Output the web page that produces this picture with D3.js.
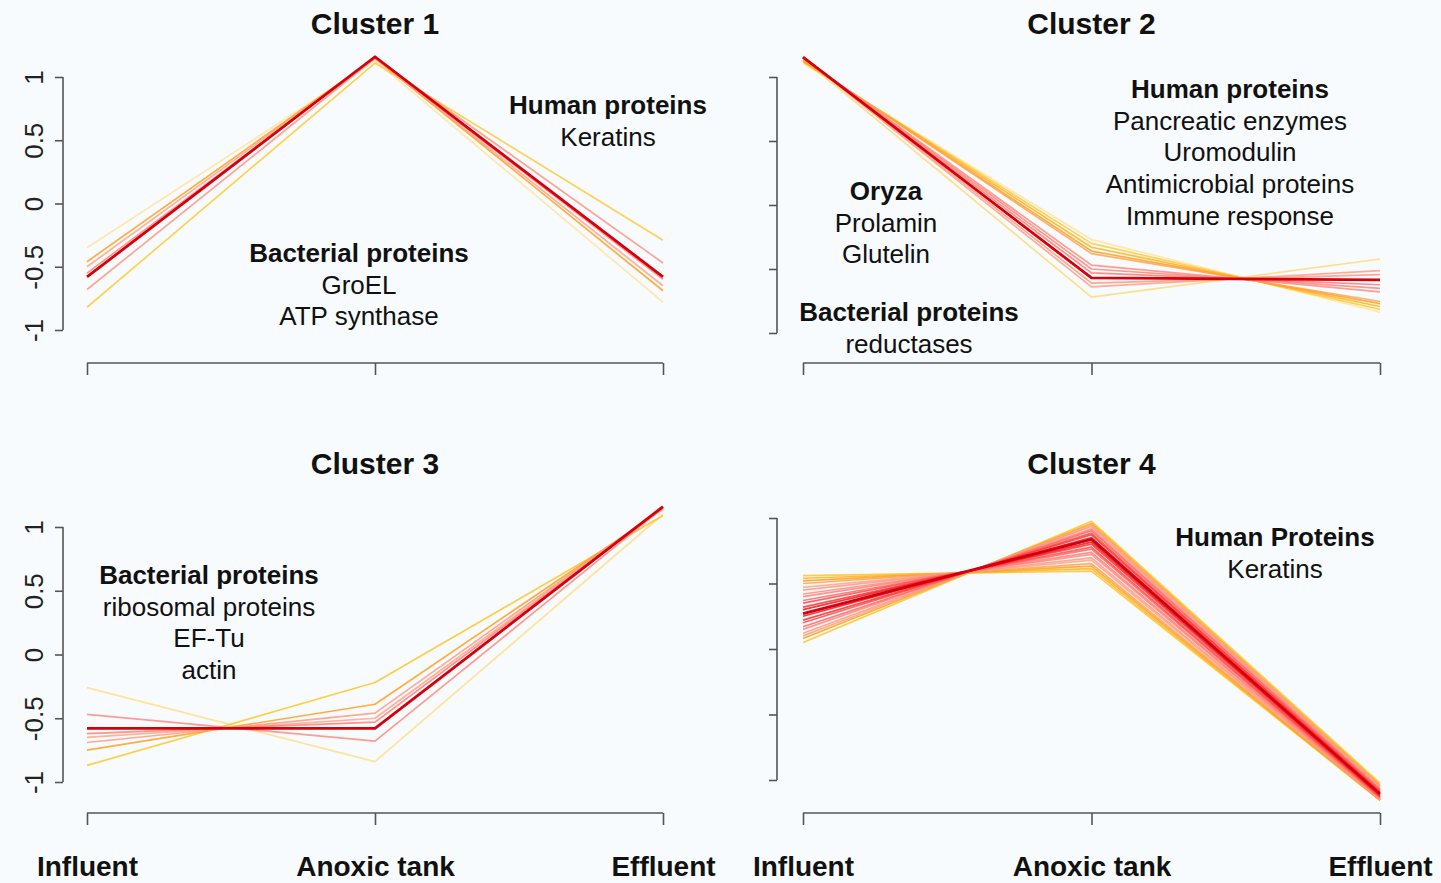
<!DOCTYPE html>
<html>
<head>
<meta charset="utf-8" />
<title>Cluster profiles</title>
<style>
body { margin: 0; background: #f7fbfd; }
svg { display: block; }
text { font-family: "Liberation Sans", Arial, Helvetica, sans-serif; fill: #111; }
.axis path, .axis line { stroke: #555; stroke-width: 1.6px; }
.profile { fill: none; stroke-linejoin: round; }
</style>
</head>
<body>
<script src="https://cdn.jsdelivr.net/npm/d3@7"></script>
<script>
// sampling points and y ticks
var stages = ["Influent", "Anoxic tank", "Effluent"];
var yTicks = [-1, -0.5, 0, 0.5, 1];

// standardised profiles (Influent, Anoxic tank, Effluent) and membership per line
var cluster1Profiles = [
  [-0.35, 1.13, -0.78],
  [-0.82, 1.11, -0.29],
  [-0.46, 1.15, -0.69],
  [-0.50, 1.15, -0.65],
  [-0.68, 1.15, -0.47],
  [-0.55, 1.15, -0.60],
  [-0.58, 1.16, -0.58]
];
var cluster1Membership = [0.25, 0.38, 0.5, 0.6, 0.66, 0.72, 1.0];

var cluster2Profiles = [
  [1.142, -0.72, -0.422],
  [1.107, -0.27, -0.837],
  [1.116, -0.30, -0.816],
  [1.123, -0.33, -0.793],
  [1.130, -0.36, -0.770],
  [1.134, -0.38, -0.754],
  [1.154, -0.61, -0.544],
  [1.152, -0.64, -0.512],
  [1.148, -0.47, -0.678],
  [1.151, -0.50, -0.651],
  [1.153, -0.53, -0.623],
  [1.155, -0.57, -0.585]
];
var cluster2Membership = [0.3, 0.25, 0.38, 0.45, 0.5, 0.55, 0.64, 0.62, 0.7, 0.72, 0.76, 1.0];

var cluster3Profiles = [
  [-0.26, -0.84, 1.10],
  [-0.87, -0.22, 1.09],
  [-0.75, -0.39, 1.14],
  [-0.65, -0.50, 1.15],
  [-0.69, -0.46, 1.15],
  [-0.47, -0.68, 1.15],
  [-0.62, -0.53, 1.15],
  [-0.58, -0.58, 1.16]
];
var cluster3Membership = [0.28, 0.4, 0.5, 0.6, 0.64, 0.7, 0.75, 1.0];

var cluster4Profiles = [
  [0.56, 0.595, -1.155],
  [0.54, 0.614, -1.154],
  [0.52, 0.633, -1.153],
  [0.50, 0.651, -1.151],
  [0.47, 0.678, -1.148],
  [0.45, 0.696, -1.146],
  [0.42, 0.722, -1.142],
  [0.40, 0.738, -1.138],
  [0.37, 0.762, -1.132],
  [0.35, 0.778, -1.128],
  [0.32, 0.801, -1.121],
  [0.30, 0.816, -1.116],
  [0.27, 0.837, -1.107],
  [0.25, 0.851, -1.101],
  [0.22, 0.872, -1.092],
  [0.20, 0.885, -1.085],
  [0.17, 0.904, -1.074],
  [0.15, 0.917, -1.067],
  [0.12, 0.935, -1.055],
  [0.10, 0.946, -1.046],
  [0.08, 0.958, -1.038],
  [0.05, 0.974, -1.024]
];
var cluster4Membership = [0.4, 0.45, 0.5, 0.55, 0.6, 0.65, 0.7, 0.75, 0.8, 0.85, 0.9, 0.95, 1.0,
                          0.95, 0.9, 0.85, 0.8, 0.72, 0.65, 0.58, 0.5, 0.4];

// annotation texts: [text, bold]
var cluster1Notes = [
  [["Human proteins", true], ["Keratins", false]],
  [["Bacterial proteins", true], ["GroEL", false], ["ATP synthase", false]]
];
var cluster2Notes = [
  [["Human proteins", true], ["Pancreatic enzymes", false], ["Uromodulin", false],
   ["Antimicrobial proteins", false], ["Immune response", false]],
  [["Oryza", true], ["Prolamin", false], ["Glutelin", false]],
  [["Bacterial proteins", true], ["reductases", false]]
];
var cluster3Notes = [
  [["Bacterial proteins", true], ["ribosomal proteins", false], ["EF-Tu", false], ["actin", false]]
];
var cluster4Notes = [
  [["Human Proteins", true], ["Keratins", false]]
];

var width = 1441, height = 883;

var svg = d3.select("body").append("svg")
    .attr("width", width)
    .attr("height", height);

svg.append("rect").attr("width", width).attr("height", height).attr("fill", "#f7fbfd");

var colour = d3.scaleLinear()
    .domain([0.25, 0.4, 0.5, 0.6, 0.75, 0.9, 1])
    .range(["#ffe4a0", "#ffc626", "#ffa01a", "#ffa488", "#ff7f78", "#ff3030", "#d6000c"]);

var panels = [
  { title: "Cluster 1", profiles: cluster1Profiles, mem: cluster1Membership, notes: cluster1Notes,
    x0: 87, x1: 663, yAxisX: 63, yTop: 77, yBot: 330, xAxisY: 363, titleY: 34,
    yLabels: true, xLabels: false, noteAt: [[608, 105], [359, 253]] },
  { title: "Cluster 2", profiles: cluster2Profiles, mem: cluster2Membership, notes: cluster2Notes,
    x0: 803, x1: 1380, yAxisX: 777, yTop: 77, yBot: 333, xAxisY: 363, titleY: 34,
    yLabels: false, xLabels: false, noteAt: [[1230, 89], [886, 191], [909, 312]] },
  { title: "Cluster 3", profiles: cluster3Profiles, mem: cluster3Membership, notes: cluster3Notes,
    x0: 87, x1: 663, yAxisX: 63, yTop: 527, yBot: 782, xAxisY: 813, titleY: 474,
    yLabels: true, xLabels: true, noteAt: [[209, 575]] },
  { title: "Cluster 4", profiles: cluster4Profiles, mem: cluster4Membership, notes: cluster4Notes,
    x0: 803, x1: 1380, yAxisX: 777, yTop: 518, yBot: 780, xAxisY: 813, titleY: 474,
    yLabels: false, xLabels: true, noteAt: [[1275, 537]] }
];

var lineGap = 31.6;

panels.forEach(function(p) {
    var g = svg.append("g");

    var x = d3.scalePoint().domain(stages).range([p.x0, p.x1]);
    var y = d3.scaleLinear().domain([-1, 1]).range([p.yBot, p.yTop]);

    // profiles, lowest membership first so the core line sits on top
    var rows = p.profiles.map(function(v, i) { return { values: v, m: p.mem[i] }; })
        .sort(function(a, b) { return a.m - b.m; });

    var line = d3.line()
        .x(function(d, i) { return x(stages[i]); })
        .y(function(d) { return y(d); });

    g.selectAll(".profile")
        .data(rows)
      .enter().append("path")
        .attr("class", "profile")
        .attr("d", function(d) { return line(d.values); })
        .attr("stroke", function(d) { return colour(d.m); })
        .attr("stroke-opacity", function(d) { return d.m >= 1 ? 1 : 0.85; })
        .attr("stroke-width", function(d) { return d.m >= 1 ? 2.8 : 1.7; });

    // y axis
    var yAxis = g.append("g")
        .attr("class", "axis")
        .attr("transform", "translate(" + p.yAxisX + ",0)")
        .call(d3.axisLeft(y).tickValues(yTicks).tickSize(8).tickSizeOuter(0)
              .tickFormat(p.yLabels ? function(d) { return String(d); } : ""));
    yAxis.selectAll("text")
        .attr("x", null)
        .attr("dy", null)
        .attr("text-anchor", "middle")
        .attr("transform", "translate(-20,0) rotate(-90)")
        .style("font-size", "26px")
        .style("fill", "#222");
    yAxis.select(".domain").attr("d", "M0," + p.yBot + "V" + p.yTop);

    // x axis
    var xAxis = g.append("g")
        .attr("class", "axis")
        .attr("transform", "translate(0," + p.xAxisY + ")")
        .call(d3.axisBottom(x).tickSize(12).tickSizeOuter(0).tickPadding(31)
              .tickFormat(p.xLabels ? null : ""));
    xAxis.select(".domain").attr("d", "M" + p.x0 + ",0H" + p.x1);
    xAxis.selectAll("text")
        .style("font-size", "28px")
        .style("font-weight", "bold")
        .style("fill", "#111");

    // title
    g.append("text")
        .attr("x", x(stages[1]))
        .attr("y", p.titleY)
        .attr("text-anchor", "middle")
        .style("font-size", "30px")
        .style("font-weight", "bold")
        .text(p.title);

    // annotations
    p.notes.forEach(function(block, bi) {
        var at = p.noteAt[bi];
        block.forEach(function(item, li) {
            g.append("text")
                .attr("x", at[0])
                .attr("y", at[1] + li * lineGap)
                .attr("dy", "0.35em")
                .attr("text-anchor", "middle")
                .style("font-size", "26px")
                .style("font-weight", item[1] ? "bold" : "normal")
                .text(item[0]);
        });
    });
});
</script>
</body>
</html>
